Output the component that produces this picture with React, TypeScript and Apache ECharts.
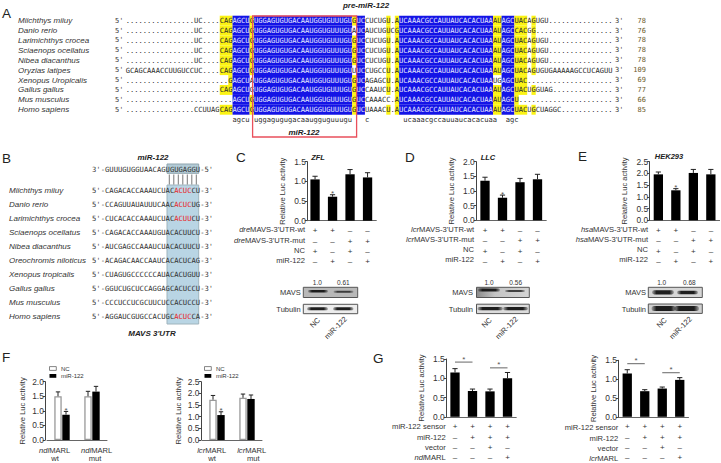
import React, { useEffect, useRef } from "react";
import * as echarts from "echarts";

const SANS = "'Liberation Sans', Arial, sans-serif";
const MONO = "'DejaVu Sans Mono', monospace";
const TXT = "#333";

// ---------- Panel A data ----------
const speciesA = ["Miichthys miiuy", "Danio rerio", "Larimichthys crocea", "Sciaenops ocellatus", "Nibea diacanthus", "Oryzias latipes", "Xenopus Uropicalis", "Gallus gallus", "Mus musculus", "Homo sapiens"];
const lengthsA = ["78", "76", "78", "78", "78", "109", "69", "77", "66", "85"];
const MIR = "UGGAGUGUGACAAUGGUGUUUGU";
const LOOP = "UCAAACGCCAUUAUCACACUAA";
const preA = ["................UC....CAG", "................UC....CAG", "................UC....CAG", "................UC....CAG", "................UC....CAG", "GCAGCAAACCUUGUCCUC....CAG", "........................G", "......................CAG", ".........................", "................CCUUAGCAG"];
const col29A = ["G", "G", "G", "G", "G", "G", "A", "G", "G", "G"];
const col53A = ["G", "A", "G", "G", "G", "U", "G", "G", "G", "G"];
const midA = ["UCCUCUGU.A", "UCAUCUGUCG", "UCCUCUGU.A", "UCCUCUGU.A", "UCCUCUGU.A", "UCCUGCCU.A", "UCAGAGCU.A", "UCCAAUCU.A", "UCCAAACC.A", "UCUAAACU.A"];
const col86A = ["AU", "AU", "AU", "AU", "AU", "AU", "UG", "AU", "AU", "AU"];
const tailA = ["UACAGUGU", "CACGG", "UACAGUGU", "UACAGUGU", "UACAGUGU", "UACAGUGUGAAAAAGCCUCAGUU", "UAC", "UACUGGUAG", "U", "UACUGCUAGGC"];
const consensusA = "                         agcu uggagugugacaaugguguuugu   c        ucaaacgccauuaucacacuaa  agc";
const yellowCols = [22, 23, 24, 29, 53, 61, 63, 86, 87, 91, 92, 93, 95];
const noYellow: number[][] = [[], [53], [], [], [], [53], [29, 86, 87], [29], [61], []];
const blueRanges = [[25, 28], [30, 52], [54, 55], [64, 85], [88, 90]];

// ---------- Panel B data ----------
const speciesB = ["Miichthys miiuy", "Danio rerio", "Larimichthys crocea", "Sciaenops ocellatus", "Nibea diacanthus", "Oreochromis niloticus", "Xenopus tropicalis", "Gallus gallus", "Mus musculus", "Homo sapiens"];
const seqB = ["CAGACACCAAAUCUAC{r|ACUC}CU", "CCAGUUAUAUUUCAAC{r|ACUC}UG", "CUCACACCAAAUCUAC{r|ACUU}CU", "CAGACACCAAAUGUACACUUCU", "AUCGAGCCAAAUCUACACUUCU", "ACAGACAACCAAUCACACUCAG", "CUAGUGCCCCCCAUACACUGUU", "GGUCUGCUCCAGGAGCACUCCU", "CCCUCCUCGCUUCUCCACUCCU", "AGGAUCGUGCCACUGC{r|ACUC}CA"];

// ---------- Bar panel data ----------
const marksC = ["+\n–\n+\n–", "+\n–\n–\n+", "–\n+\n+\n–", "–\n+\n–\n+"];
const marksG = ["+\n–\n–\n–", "+\n+\n–\n–", "+\n+\n+\n–", "+\n+\n–\n+"];
const cVals = [1.05, 0.61, 1.18, 1.1];
const cHi = [1.13, 0.66, 1.3, 1.22];
const dVals = [1.35, 0.77, 1.3, 1.4];
const dHi = [1.47, 0.86, 1.43, 1.57];
const eVals = [1.96, 1.28, 2.02, 1.96];
const eHi = [2.06, 1.35, 2.17, 2.17];
const g1Vals = [1.15, 0.67, 0.66, 1.0];
const g1Hi = [1.25, 0.72, 0.72, 1.15];
const g2Vals = [1.15, 0.68, 0.75, 0.98];
const g2Hi = [1.25, 0.72, 0.79, 1.04];
const groupF = ["wt", "mut"];
const f1Nc = [1.5, 1.5];
const f1NcHi = [1.65, 1.67];
const f1Mir = [0.87, 1.66];
const f1MirHi = [0.98, 1.84];
const f2Nc = [1.73, 1.81];
const f2NcHi = [1.91, 1.97];
const f2Mir = [1.07, 1.76];
const f2MirHi = [1.21, 1.93];
const rowsOf = (p: string) => [`{i|${p}}MAVS-3'UTR-wt`, `{i|${p}}MAVS-3'UTR-mut`, "NC", "miR-122"];
const rowsG1 = ["miR-122 sensor", "miR-122", "vector", "{i|ndl}MARL"];
const rowsG2 = ["miR-122 sensor", "miR-122", "vector", "{i|lcr}MARL"];

const ITALIC = { fontStyle: "italic", fontFamily: SANS, fontSize: 7.6, fill: TXT } as any;

function txt(text: string, x: number, y: number, o: any = {}) {
  return {
    type: "text", x, y, z: 20, silent: true,
    style: { text, fontFamily: SANS, fontSize: 7.6, fill: TXT, align: "left", verticalAlign: "middle", rich: { i: ITALIC }, ...o },
  };
}

// ---------- Alignment runs ----------
function kindOf(row: number, col: number, ch: string) {
  if (ch === "." ) return "n";
  if (yellowCols.includes(col) && !noYellow[row].includes(col)) return "y";
  if (blueRanges.some(([a, b]) => col >= a && col <= b)) return "b";
  return "n";
}
const runs: { start: number; row: number; text: string; kind: string }[] = [];
speciesA.forEach((_, r) => {
  const s = (preA[r] + "AGCU" + col29A[r] + MIR + col53A[r] + midA[r] + LOOP + col86A[r] + "AGC" + tailA[r]).padEnd(114, ".");
  let start = 0;
  for (let c = 1; c <= s.length; c++) {
    if (c === s.length || kindOf(r, c, s[c]) !== kindOf(r, start, s[start])) {
      runs.push({ start, row: r, text: s.slice(start, c), kind: kindOf(r, start, s[start]) });
      start = c;
    }
  }
});
consensusA.split(/(\s+)/).reduce((pos, part) => {
  if (part.trim()) runs.push({ start: pos, row: 10, text: part, kind: "n" });
  return pos + part.length;
}, 0);

const alignSeries = {
  type: "custom", xAxisIndex: 0, yAxisIndex: 0, silent: true, z: 2,
  encode: { x: 0, y: 1 },
  data: runs.map((q) => [q.start, q.row]),
  renderItem: (p: any, api: any) => {
    const q = runs[p.dataIndex];
    const a = api.coord([q.start, q.row]);
    const b = api.coord([q.start + q.text.length, q.row + 1]);
    const children: any[] = [];
    if (q.kind !== "n") children.push({ type: "rect", shape: { x: a[0], y: a[1], width: b[0] - a[0], height: b[1] - a[1] }, style: { fill: q.kind === "b" ? "#1414e6" : "#fbf314" } });
    children.push({ type: "text", x: a[0], y: (a[1] + b[1]) / 2, style: { text: q.text, fontFamily: MONO, fontSize: 7.09, fill: q.kind === "b" ? "#e8e8ff" : "#2a2a2a", align: "left", verticalAlign: "middle" } });
    return { type: "group", children };
  },
};

// ---------- Bar panels ----------
const grids: any[] = [{ left: 125.8, top: 15.7, width: 486.8, height: 108.9, show: false }];
const xAxes: any[] = [{ gridIndex: 0, type: "value", min: 0, max: 114, show: false }];
const yAxes: any[] = [{ gridIndex: 0, type: "value", min: 0, max: 11, inverse: true, show: false }];
const series: any[] = [alignSeries];

function errSeries(idx: number, vals: number[], hi: number[], off = 0, cap = 2.6) {
  return {
    type: "custom", xAxisIndex: idx, yAxisIndex: idx, silent: true, z: 3, encode: { x: 0, y: 1 },
    data: hi.map((h, i) => [i, h, vals[i]]),
    renderItem: (_: any, api: any) => {
      const top = api.coord([api.value(0), api.value(1)]);
      const base = api.coord([api.value(0), api.value(2)]);
      const x = top[0] + off;
      return {
        type: "group",
        children: [
          { type: "line", shape: { x1: x, y1: top[1], x2: x, y2: base[1] }, style: { stroke: "#222", lineWidth: 1 } },
          { type: "line", shape: { x1: x - cap, y1: top[1], x2: x + cap, y2: top[1] }, style: { stroke: "#222", lineWidth: 1 } },
        ],
      };
    },
  };
}
function starSeries(idx: number, cat: number, hi: number, off = 0) {
  return {
    type: "custom", xAxisIndex: idx, yAxisIndex: idx, silent: true, z: 4, encode: { x: 0, y: 1 },
    data: [[cat, hi]],
    renderItem: (_: any, api: any) => {
      const c = api.coord([api.value(0), api.value(1)]);
      return { type: "text", x: c[0] + off, y: c[1] - 1, style: { text: "*", fontFamily: SANS, fontSize: 8, fill: "#555", align: "center", verticalAlign: "middle" } };
    },
  };
}
function bracketSeries(idx: number, a: number, b: number, v: number) {
  return {
    type: "custom", xAxisIndex: idx, yAxisIndex: idx, silent: true, z: 4, encode: { x: [0, 1], y: 2 },
    data: [[a, b, v]],
    renderItem: (_: any, api: any) => {
      const p = api.coord([api.value(0), api.value(2)]);
      const q = api.coord([api.value(1), api.value(2)]);
      return {
        type: "group",
        children: [
          { type: "line", shape: { x1: p[0], y1: p[1], x2: q[0], y2: q[1] }, style: { stroke: "#555", lineWidth: 0.9 } },
          { type: "text", x: (p[0] + q[0]) / 2, y: p[1] - 3, style: { text: "*", fontFamily: SANS, fontSize: 8, fill: "#555", align: "center", verticalAlign: "middle" } },
        ],
      };
    },
  };
}

function addAxes(left: number, top: number, w: number, h: number, max: number, cats: string[], nameGap: number, yOffset = 0, showCats = true, labelMargin = 5) {
  const idx = grids.length;
  grids.push({ left, top, width: w, height: h, show: false });
  xAxes.push({
    gridIndex: idx, type: "category", data: cats,
    axisLine: { lineStyle: { color: "#666", width: 1 } }, axisTick: { show: false },
    axisLabel: { show: showCats, interval: 0, fontFamily: SANS, fontSize: 8, color: TXT, lineHeight: 10.3, margin: labelMargin },
  });
  yAxes.push({
    gridIndex: idx, type: "value", min: 0, max, interval: 0.5, offset: yOffset,
    splitLine: { show: false },
    axisLine: { show: true, lineStyle: { color: "#444", width: 1 } },
    axisTick: { show: true, length: 2.5, lineStyle: { color: "#444" } },
    axisLabel: { fontFamily: SANS, fontSize: 8.4, color: TXT, margin: 1.5, formatter: (v: number) => v.toFixed(1) },
    name: "Relative Luc activity", nameLocation: "middle", nameGap, nameRotate: 90,
    nameTextStyle: { fontFamily: SANS, fontSize: 7.6, color: TXT },
  });
  return idx;
}
function fourBars(left: number, top: number, h: number, max: number, cats: string[], vals: number[], hi: number[], nameGap: number, yOffset = 0) {
  const idx = addAxes(left, top, 70, h, max, cats, nameGap, yOffset);
  series.push({ type: "bar", xAxisIndex: idx, yAxisIndex: idx, data: vals, barWidth: 9.3, itemStyle: { color: "#000" }, z: 2, silent: true });
  series.push(errSeries(idx, vals, hi));
  return idx;
}
const iC = fourBars(306.3, 161.7, 59, 1.5, marksC, cVals, cHi, 21, -1);
series.push(starSeries(iC, 1, cHi[1]));
const iD = fourBars(476.25, 161.7, 58.6, 2, marksC, dVals, dHi, 21);
series.push(starSeries(iD, 1, dHi[1]));
const iE = fourBars(649.6, 161.7, 58.6, 2.5, marksC, eVals, eHi, 21.5);
series.push(starSeries(iE, 1, eHi[1]));
const iG1 = fourBars(446.25, 359, 58.7, 1.5, marksG, g1Vals, g1Hi, 21);
series.push(bracketSeries(iG1, 0, 1, 1.42), bracketSeries(iG1, 2, 3, 1.27));
const iG2 = fourBars(618.5, 360.3, 58.4, 1.5, marksG, g2Vals, g2Hi, 21);
series.push(bracketSeries(iG2, 0, 1, 1.41), bracketSeries(iG2, 2, 3, 1.17));

function groupBars(left: number, max: number, nc: number[], ncHi: number[], mir: number[], mirHi: number[], yOffset: number) {
  const idx = addAxes(left, 381.7, 60, 58.3, max, groupF, 19, yOffset, false);
  series.push({ type: "bar", xAxisIndex: idx, yAxisIndex: idx, data: nc, barWidth: 7.4, barGap: "8%", itemStyle: { color: "#fff", borderColor: "#999", borderWidth: 1.3 }, z: 2, silent: true });
  series.push({ type: "bar", xAxisIndex: idx, yAxisIndex: idx, data: mir, barWidth: 7.4, itemStyle: { color: "#000" }, z: 2, silent: true });
  series.push(errSeries(idx, nc, ncHi, -4, 2.2), errSeries(idx, mir, mirHi, 4, 2.2));
  return idx;
}
const iF1 = groupBars(47, 2, f1Nc, f1NcHi, f1Mir, f1MirHi, 1.7);
series.push(starSeries(iF1, 0, f1MirHi[0], 4));
const iF2 = groupBars(202, 2.5, f2Nc, f2NcHi, f2Mir, f2MirHi, 1);
series.push(starSeries(iF2, 0, f2MirHi[0], 4));

// ---------- Graphic annotations ----------
function band(x0: number, x1: number, cy: number, t: number, alpha = 1) {
  return {
    type: "rect", z: 12, silent: true,
    shape: { x: x0, y: cy - t / 2, width: x1 - x0, height: t, r: t / 2 },
    style: {
      fill: {
        type: "linear", x: 0, y: 0, x2: 1, y2: 0,
        colorStops: [
          { offset: 0, color: `rgba(20,20,20,${0.25 * alpha})` },
          { offset: 0.2, color: `rgba(20,20,20,${0.95 * alpha})` },
          { offset: 0.8, color: `rgba(20,20,20,${0.95 * alpha})` },
          { offset: 1, color: `rgba(20,20,20,${0.25 * alpha})` },
        ],
      },
    },
  };
}
function box(x: number, y: number, w: number, h: number, fill: any) {
  return { type: "rect", z: 11, silent: true, shape: { x, y, width: w, height: h }, style: { fill, stroke: "#555", lineWidth: 1 } };
}
const shadeD = { type: "linear", x: 0, y: 0, x2: 1, y2: 0, colorStops: [{ offset: 0, color: "#8a8a8a" }, { offset: 0.35, color: "#c4c4c4" }, { offset: 1, color: "#d4d4d4" }] };

const g: any[] = [];
// letters
[["A", 2, 13], ["B", 2, 158], ["C", 236, 157], ["D", 405, 157], ["E", 578, 156], ["F", 2, 357], ["G", 373, 358]].forEach(([t, x, y]) =>
  g.push(txt(t as string, x as number, y as number, { fontSize: 13.5, fill: "#222" }))
);
// Panel A
const BI = { fontWeight: "bold", fontStyle: "italic", fontSize: 8, fill: "#222" };
g.push(txt("pre-miR-122", 366, 5, { ...BI, align: "center" }));
g.push({ type: "rect", z: 15, silent: true, shape: { x: 252.6, y: 16, width: 104, height: 121 }, style: { fill: "none", stroke: "#e9505c", lineWidth: 1.3 } });
g.push(txt("miR-122", 304, 132.7, { ...BI, align: "center" }));
speciesA.forEach((s, i) => {
  const y = 20.6 + i * 9.9;
  g.push(txt(s, 18, y, { fontStyle: "italic", fontSize: 8 }));
  g.push(txt("5'", 115, y, { fontFamily: MONO, fontSize: 7 }));
  g.push(txt("3'", 615, y, { fontFamily: MONO, fontSize: 7 }));
  g.push(txt(lengthsA[i], 646, y, { fontFamily: MONO, fontSize: 7, align: "right", fill: "#6b5a2a" }));
});
// Panel B
g.push(txt("miR-122", 153, 157, { ...BI, align: "center" }));
g.push({ type: "rect", z: 11, silent: true, shape: { x: 167, y: 185, width: 31.7, height: 139 }, style: { fill: "#b9d5e4", stroke: "#9fb4bd", lineWidth: 1 } });
g.push({ type: "rect", z: 11, silent: true, shape: { x: 167, y: 164, width: 31.7, height: 9.3 }, style: { fill: "#b2cbd6", stroke: "#8fa4ad", lineWidth: 1 } });
for (let k = 0; k < 7; k++) g.push({ type: "line", z: 11, silent: true, shape: { x1: 169.3 + k * 4.5, y1: 174.5, x2: 169.3 + k * 4.5, y2: 184.5 }, style: { stroke: "#555", lineWidth: 0.8 } });
g.push(txt("3'-GUUUGUGGUAACAGUGUGAGGU-5'", 92, 169, { fontFamily: MONO, fontSize: 7.2 }));
speciesB.forEach((s, i) => {
  const y = 190.7 + i * 14;
  g.push(txt(s, 9, y, { fontStyle: "italic", fontSize: 8 }));
  g.push(txt(`5'-${seqB[i]}-3'`, 92, y, { fontFamily: MONO, fontSize: 7.2, rich: { r: { fill: "#e8262a", fontFamily: MONO, fontSize: 7.2 } } }));
});
g.push(txt("MAVS 3'UTR", 152, 333, { ...BI, align: "center" }));
// cell titles
g.push(txt("ZFL", 318, 157, { ...BI, fontSize: 7.5, align: "center" }));
g.push(txt("LLC", 488, 157, { ...BI, fontSize: 7.5, align: "center" }));
g.push(txt("HEK293", 669, 156, { ...BI, fontSize: 7.5, align: "center" }));
// row labels
const rowBlock = (rows: string[], right: number, y0: number, step = 10.3) => rows.forEach((r, i) => g.push(txt(r, right, y0 + i * step, { align: "right" })));
rowBlock(rowsOf("dre"), 305, 229.8);
rowBlock(rowsOf("lcr"), 474, 229);
rowBlock(rowsOf("hsa"), 648, 229, 10);
rowBlock(rowsG1, 445.7, 426.7);
rowBlock(rowsG2, 618.3, 427.7);
// blots
const blotText = (mavsRight: number, n1: number, n2: number, v2: string, nc: number, mir: number) => {
  g.push(txt("MAVS", mavsRight, 292.3, { align: "right", fontSize: 7.5 }));
  g.push(txt("Tubulin", mavsRight, 309, { align: "right", fontSize: 7.5 }));
  g.push(txt("1.0", n1, 282.7, { align: "center", fontSize: 6.5 }));
  g.push(txt(v2, n2, 282.7, { align: "center", fontSize: 6.5 }));
  g.push({ ...txt("NC", nc, 322.7, { align: "center", fontSize: 7.5 }), rotation: Math.PI / 4 });
  g.push({ ...txt("miR-122", mir, 327.7, { align: "center", fontSize: 7.5 }), rotation: Math.PI / 4 });
};
g.push(box(303.3, 287.3, 54.4, 10.2, "#b8b8b8"), band(308, 328, 291.3, 2.6), band(333.5, 353.5, 291.8, 2, 0.8));
g.push(box(303.3, 304.3, 54.4, 9.4, "#ececec"), band(307, 328, 308.7, 3), band(333, 353.5, 308.7, 3));
blotText(300.7, 317.3, 343.3, "0.61", 315, 335.7);
g.push(box(476.5, 287.3, 52.8, 10.2, shadeD), band(478, 500, 290, 3), band(505, 525, 291, 2, 0.8));
g.push(box(476.5, 304.2, 52.8, 9.4, "#dcdcdc"), band(477.5, 503, 308.6, 3.2), band(503, 528, 308.6, 3.2));
blotText(473, 489, 515.7, "0.56", 486.7, 506.7);
g.push(box(648.3, 287.3, 54, 10.2, "#d6d6d6"), band(652, 674, 292.3, 4.2), band(677, 698, 292.5, 3.4));
g.push(box(648.3, 304, 54, 9.4, "#d0d0d0"), band(651.5, 676, 308.4, 5), band(674, 699, 308.4, 5));
blotText(646, 661.7, 689.3, "0.68", 661.7, 680.7);
// F legends and group labels
const legendF = (x: number, tx: number) => {
  g.push({ type: "rect", z: 11, silent: true, shape: { x, y: 366.6, width: 6.8, height: 3.8 }, style: { fill: "#fff", stroke: "#666", lineWidth: 0.8 } });
  g.push({ type: "rect", z: 11, silent: true, shape: { x, y: 374, width: 6.8, height: 3.8 }, style: { fill: "#000" } });
  g.push(txt("NC", tx, 368.6, { fontSize: 6 }));
  g.push(txt("miR-122", tx, 376, { fontSize: 6 }));
};
legendF(49.5, 61);
legendF(204.5, 216);
const labF = (p: string, c1: number, w1: number, c2: number, w2: number) => {
  g.push(txt(`{i|${p}}MARL`, c1, 450, { align: "center", fontSize: 7.6 }));
  g.push(txt(groupF[0], w1, 458.5, { align: "center", fontSize: 7.6 }));
  g.push(txt(`{i|${p}}MARL`, c2, 450, { align: "center", fontSize: 7.6 }));
  g.push(txt(groupF[1], w2, 458.5, { align: "center", fontSize: 7.6 }));
};
labF("ndl", 54.7, 55, 96.7, 95);
labF("lcr", 211.7, 212, 251.7, 253.3);

export default function App() {
  const ref = useRef<HTMLDivElement>(null);
  useEffect(() => {
    document.body.style.margin = "0";
    const chart = echarts.init(ref.current!, undefined, { renderer: "svg" });
    chart.setOption({
      animation: false,
      backgroundColor: "#fff",
      grid: grids,
      xAxis: xAxes,
      yAxis: yAxes,
      series,
      graphic: { elements: g },
    });
    return () => chart.dispose();
  }, []);
  return <div ref={ref} style={{ width: 721, height: 463, position: "absolute", left: 0, top: 0 }} />;
}
